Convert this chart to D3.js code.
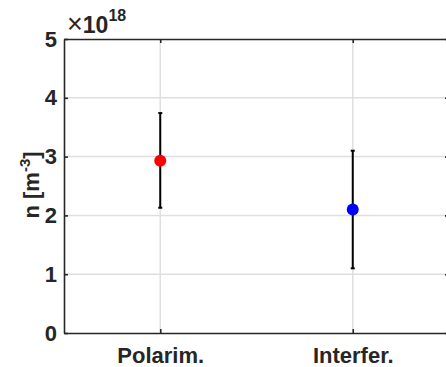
<!DOCTYPE html>
<html>
<head>
<meta charset="utf-8">
<script src="https://cdn.jsdelivr.net/npm/d3@7"></script>
<style>
  body { margin: 0; background: #fff; }
  text { font-family: "Liberation Sans", Arial, sans-serif; }
</style>
</head>
<body>
<div id="chart"></div>
<script>
// density estimates with error bars
const categories = ['Polarim.', 'Interfer.'];
const values = [2.93, 2.10];      // x 1e18
const errLow = [2.13, 1.10];
const errHigh = [3.74, 3.10];
const colors = ['#ff0000', '#0000ff'];
const yTicks = [0, 1, 2, 3, 4, 5];

const W = 446, H = 367;
const margin = {top: 39, right: -3, bottom: 34, left: 64};
const width = W - margin.left - margin.right;
const height = H - margin.top - margin.bottom;
const axisColor = '#262626';

const svg = d3.select('#chart').append('svg')
    .attr('width', W)
    .attr('height', H);

const g = svg.append('g')
    .attr('transform', `translate(${margin.left},${margin.top})`);

const x = d3.scalePoint()
    .domain(categories)
    .range([0, width])
    .padding(0.5);

const y = d3.scaleLinear()
    .domain([0, 5])
    .range([height, 0]);

// grid
g.selectAll('.ygrid').data(yTicks.slice(1, -1)).enter().append('line')
    .attr('x1', 0).attr('x2', width)
    .attr('y1', d => y(d)).attr('y2', d => y(d))
    .attr('stroke', '#dfdfdf').attr('stroke-width', 1.5);

g.selectAll('.xgrid').data(categories).enter().append('line')
    .attr('x1', d => x(d)).attr('x2', d => x(d))
    .attr('y1', 0).attr('y2', height)
    .attr('stroke', '#dfdfdf').attr('stroke-width', 1.5);

// axes (ticks inward)
const yAxis = d3.axisLeft(y).tickValues(yTicks).tickFormat(d3.format('d'))
    .tickSizeInner(-4).tickSizeOuter(0).tickPadding(7);
const xAxis = d3.axisBottom(x).tickSizeInner(-4).tickSizeOuter(0).tickPadding(14);

const yg = g.append('g').call(yAxis);
const xg = g.append('g').attr('transform', `translate(0,${height})`).call(xAxis);
const yr = g.append('g').attr('transform', `translate(${width},0)`)
    .call(d3.axisRight(y).tickValues(yTicks).tickSizeInner(-4).tickSizeOuter(0).tickFormat(''));
const xt = g.append('g')
    .call(d3.axisTop(x).tickSizeInner(-4).tickSizeOuter(0).tickFormat(''));

[yg, xg, yr, xt].forEach(a => {
    a.select('.domain').attr('stroke', axisColor).attr('stroke-width', 1.6);
    a.selectAll('.tick line').attr('stroke', axisColor).attr('stroke-width', 1.6);
    a.selectAll('.tick text')
        .attr('fill', axisColor)
        .style('font-size', '22px')
        .style('font-weight', 'bold')
        .style('font-family', '"Liberation Sans", Arial, sans-serif');
});

// error bars
const pts = categories.map((c, i) => ({c: c, v: values[i], lo: errLow[i], hi: errHigh[i], col: colors[i]}));

g.selectAll('.err').data(pts).enter().append('line')
    .attr('x1', d => x(d.c)).attr('x2', d => x(d.c))
    .attr('y1', d => y(d.lo)).attr('y2', d => y(d.hi))
    .attr('stroke', '#000').attr('stroke-width', 2);

g.selectAll('.capHi').data(pts).enter().append('line')
    .attr('x1', d => x(d.c) - 2).attr('x2', d => x(d.c) + 2)
    .attr('y1', d => y(d.hi)).attr('y2', d => y(d.hi))
    .attr('stroke', '#000').attr('stroke-width', 2);

g.selectAll('.capLo').data(pts).enter().append('line')
    .attr('x1', d => x(d.c) - 2).attr('x2', d => x(d.c) + 2)
    .attr('y1', d => y(d.lo)).attr('y2', d => y(d.lo))
    .attr('stroke', '#000').attr('stroke-width', 2);

g.selectAll('.pt').data(pts).enter().append('circle')
    .attr('cx', d => x(d.c)).attr('cy', d => y(d.v))
    .attr('r', 6)
    .attr('fill', d => d.col);

// exponent label
const ex = svg.append('text')
    .attr('x', margin.left + 3).attr('y', 33)
    .attr('fill', axisColor);
ex.append('tspan').style('font-size', '27px').text('\u00d7');
ex.append('tspan').style('font-size', '23px').style('font-weight', 'bold').text('10');
ex.append('tspan').attr('dy', -12).style('font-size', '16px').style('font-weight', 'bold').text('18');

// y label
const yl = svg.append('text')
    .attr('transform', `translate(39,${margin.top + height / 2 - 1}) rotate(-90)`)
    .attr('text-anchor', 'middle')
    .attr('fill', axisColor)
    .style('font-size', '22px')
    .style('font-weight', 'bold');
yl.append('tspan').text('n [m');
yl.append('tspan').attr('dy', -9).style('font-size', '15px').text('-3');
yl.append('tspan').attr('dy', 9).text(']');
</script>
</body>
</html>
